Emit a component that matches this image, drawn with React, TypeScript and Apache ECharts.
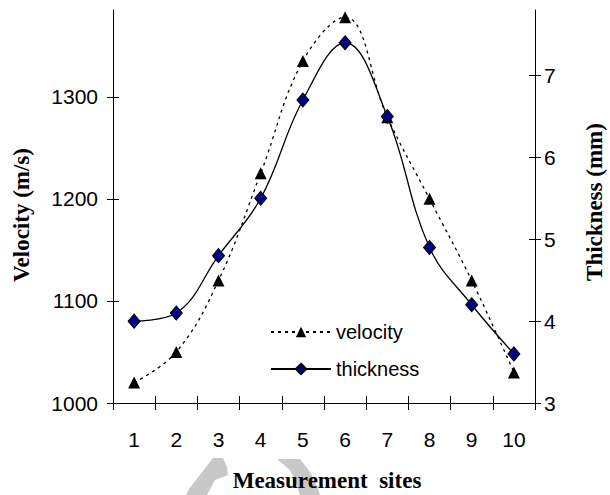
import React, { useEffect, useRef } from "react";
import * as echarts from "echarts";

const categories = ["1", "2", "3", "4", "5", "6", "7", "8", "9", "10"];
const velocity = [1020, 1050, 1120, 1225, 1335, 1378, 1280, 1200, 1120, 1030];
const thickness = [4.0, 4.1, 4.8, 5.5, 6.7, 7.4, 6.5, 4.9, 4.2, 3.6];
const velocityTicks = [1000, 1100, 1200, 1300];
const thicknessTicks = [3, 4, 5, 6, 7];

const SANS = "'Liberation Sans', Arial, sans-serif";
const SERIF = "'Liberation Serif', 'Times New Roman', serif";

export default function App() {
  const ref = useRef<HTMLDivElement>(null);
  useEffect(() => {
    if (!ref.current) return;
    const chart = echarts.init(ref.current, null, { renderer: "svg" });
    const labelStyle = { color: "#000", fontFamily: SANS, fontSize: 20 };
    const plain = (v: number) => String(v);
    const tickLine = { color: "#000", width: 1 };
    chart.setOption({
      animation: false,
      backgroundColor: "#fff",
      grid: { left: 113, right: 75, top: 10, bottom: 92 },
      legend: {
        orient: "vertical",
        left: 265,
        top: 317,
        itemWidth: 60,
        itemHeight: 13,
        itemGap: 17,
        textStyle: labelStyle,
        data: ["velocity", "thickness"],
      },
      xAxis: [
        {
          type: "category",
          data: categories,
          boundaryGap: true,
          axisLine: { lineStyle: { color: "#000", width: 1 } },
          axisTick: { show: true, length: 7, inside: false, lineStyle: tickLine },
          axisLabel: { ...labelStyle, fontSize: 21, margin: 26 },
          splitLine: { show: false },
        },
        {
          type: "category",
          data: categories,
          position: "bottom",
          boundaryGap: true,
          axisLine: { show: false },
          axisTick: { show: true, length: 7, inside: true, lineStyle: tickLine },
          axisLabel: { show: false },
          splitLine: { show: false },
        },
      ],
      yAxis: [
        {
          type: "value",
          min: 1000,
          max: 1385,
          interval: 100,
          position: "left",
          axisLine: { show: true, lineStyle: { color: "#000", width: 1 } },
          axisTick: { show: true, length: 6, customValues: velocityTicks, lineStyle: tickLine },
          axisLabel: { ...labelStyle, fontSize: 21, margin: 15, customValues: velocityTicks, formatter: plain },
          splitLine: { show: false },
        },
        {
          type: "value",
          min: 3,
          max: 7.8,
          interval: 1,
          position: "right",
          axisLine: { show: true, lineStyle: { color: "#000", width: 1 } },
          axisTick: { show: true, length: 6, customValues: thicknessTicks, lineStyle: tickLine },
          axisLabel: { ...labelStyle, fontSize: 21, margin: 9, customValues: thicknessTicks, formatter: plain },
          splitLine: { show: false },
        },
        {
          type: "value",
          min: 3,
          max: 7.8,
          interval: 1,
          position: "right",
          axisLine: { show: false },
          axisTick: { show: true, inside: true, length: 6, customValues: thicknessTicks, lineStyle: tickLine },
          axisLabel: { show: false },
          splitLine: { show: false },
        },
        {
          type: "value",
          min: 1000,
          max: 1385,
          interval: 100,
          position: "left",
          axisLine: { show: false },
          axisTick: { show: true, inside: true, length: 6, customValues: velocityTicks, lineStyle: tickLine },
          axisLabel: { show: false },
          splitLine: { show: false },
        },
      ],
      series: [
        {
          name: "velocity",
          type: "line",
          yAxisIndex: 0,
          data: velocity,
          smooth: 0.4,
          symbol: "triangle",
          symbolSize: [12, 12],
          showAllSymbol: true,
          lineStyle: { color: "#000", width: 1.3, type: [3, 4] },
          itemStyle: { color: "#000", borderColor: "#000", borderWidth: 0 },
          z: 2,
        },
        {
          name: "thickness",
          type: "line",
          yAxisIndex: 1,
          data: thickness,
          smooth: 0.4,
          symbol: "diamond",
          symbolSize: [12, 14],
          showAllSymbol: true,
          lineStyle: { color: "#000", width: 1.3, type: "solid" },
          itemStyle: { color: "#000080", borderColor: "#000", borderWidth: 1 },
          z: 3,
        },
      ],
      graphic: [
        {
          type: "polygon",
          z: 1,
          shape: {
            points: [[213, 458], [223, 458], [227, 467], [228, 475], [215, 480], [207, 495], [186, 495], [189, 489]],
          },
          style: { fill: "#c8c8c8" },
        },
        {
          type: "polygon",
          z: 1,
          shape: {
            points: [[277, 459], [300, 459], [310, 472], [317, 486], [320, 495], [300, 495], [295, 480], [290, 470]],
          },
          style: { fill: "#c8c8c8" },
        },
        {
          type: "text",
          z: 10,
          x: 327,
          y: 480,
          style: {
            text: "Measurement  sites",
            fill: "#000",
            font: `bold 23px ${SERIF}`,
            textAlign: "center",
            textVerticalAlign: "middle",
          },
        },
        {
          type: "text",
          z: 10,
          x: 21,
          y: 215,
          rotation: Math.PI / 2,
          style: {
            text: "Velocity (m/s)",
            fill: "#000",
            font: `bold 23px ${SERIF}`,
            textAlign: "center",
            textVerticalAlign: "middle",
          },
        },
        {
          type: "text",
          z: 10,
          x: 594,
          y: 202,
          rotation: Math.PI / 2,
          style: {
            text: "Thickness (mm)",
            fill: "#000",
            font: `bold 23px ${SERIF}`,
            textAlign: "center",
            textVerticalAlign: "middle",
          },
        },
      ],
    });
    return () => chart.dispose();
  }, []);
  return <div ref={ref} style={{ width: 610, height: 495, position: "fixed", left: 0, top: 0 }} />;
}
